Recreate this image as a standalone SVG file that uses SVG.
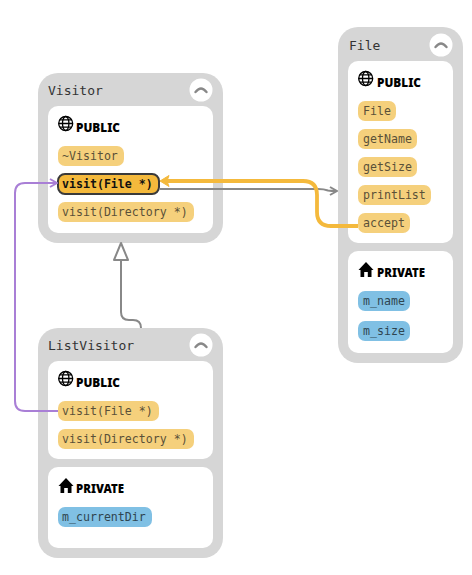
<svg xmlns="http://www.w3.org/2000/svg" width="472" height="575" viewBox="0 0 472 575">
<style>
.outer{fill:#d6d6d6}
.inner{fill:#fff}
.title{font:13px "DejaVu Sans Mono","Liberation Mono",monospace;fill:#333}
.sec{font:900 12px "Noto Sans","Open Sans",sans-serif;fill:#000}
.m{font:11.6px "DejaVu Sans Mono","Liberation Mono",monospace;fill:#5a5038}
.p{font:11.6px "DejaVu Sans Mono","Liberation Mono",monospace;fill:#2f4550}
.sel{font:bold 11.6px "DejaVu Sans Mono","Liberation Mono",monospace;fill:#111}
.pub{fill:#f5d07c}
.priv{fill:#80c0e4}
.btn{fill:#fff}
.chev{fill:none;stroke:#888;stroke-width:2.4;stroke-linecap:round;stroke-linejoin:round}
.globe{fill:none;stroke:#000;stroke-width:1.3}
.c{fill:none}
</style>
<defs>
<g id="globe"><circle class="globe" cx="0" cy="0" r="7"/><ellipse class="globe" cx="0" cy="0" rx="3.2" ry="7"/><path class="globe" d="M-7 0H7M-6 -3.6H6M-6 3.6H6"/></g>
<path id="house" d="M0 -8L7.500 0H5.500V7H1.800V2H-1.800V7H-5.500V0H-7.500Z" fill="#000"/>
<g id="toggle"><circle class="btn" r="11.500"/><path class="chev" d="M-5.500 2Q-2.500 -1.500 0 -1.500Q2.500 -1.500 5.500 2"/></g>
<marker id="ag" viewBox="0 0 10 10" refX="9" refY="5" markerWidth="10" markerHeight="10" markerUnits="userSpaceOnUse" orient="auto"><path d="M2 1L9 5L2 9" fill="none" stroke="#888" stroke-width="2"/></marker>
<marker id="ap" viewBox="0 0 10 10" refX="9" refY="5" markerWidth="10" markerHeight="10" markerUnits="userSpaceOnUse" orient="auto"><path d="M2 1L9 5L2 9" fill="none" stroke="#a97fd6" stroke-width="2"/></marker>
</defs>

<g id="node-visitor">
<rect class="outer" x="38" y="73" width="185" height="170" rx="20"/>
<text class="title" x="48" y="95">Visitor</text>
<use href="#toggle" x="201" y="90"/>
<rect class="inner" x="48" y="106" width="165" height="127" rx="10"/>
<use href="#globe" x="65.700" y="123.500"/>
<text class="sec" x="76" y="131.500" textLength="44" lengthAdjust="spacingAndGlyphs">PUBLIC</text>
<rect class="pub" x="58" y="146" width="66" height="20" rx="7"/>
<text class="m" x="62" y="160">~Visitor</text>
<rect x="58" y="174" width="101" height="20" rx="7" fill="#f4b93c" stroke="#3a3a3a" stroke-width="2"/>
<text class="sel" x="62" y="188">visit(File *)</text>
<rect class="pub" x="58" y="202" width="136" height="20" rx="7"/>
<text class="m" x="62" y="216">visit(Directory *)</text>
</g>

<g id="node-file">
<rect class="outer" x="338" y="27" width="125" height="336" rx="20"/>
<text class="title" x="349" y="50">File</text>
<use href="#toggle" x="441" y="45"/>
<rect class="inner" x="348" y="61" width="105" height="182" rx="10"/>
<use href="#globe" x="365.700" y="78.500"/>
<text class="sec" x="377" y="86.500" textLength="44" lengthAdjust="spacingAndGlyphs">PUBLIC</text>
<rect class="pub" x="358" y="101" width="38" height="20" rx="7"/>
<text class="m" x="363" y="115">File</text>
<rect class="pub" x="358" y="129" width="59" height="20" rx="7"/>
<text class="m" x="363" y="143">getName</text>
<rect class="pub" x="358" y="157" width="59" height="20" rx="7"/>
<text class="m" x="363" y="171">getSize</text>
<rect class="pub" x="358" y="185" width="73" height="20" rx="7"/>
<text class="m" x="363" y="199">printList</text>
<rect class="pub" x="358" y="213" width="52" height="20" rx="7"/>
<text class="m" x="363" y="227">accept</text>
<rect class="inner" x="348" y="251" width="105" height="102" rx="10"/>
<use href="#house" x="366" y="270"/>
<text class="sec" x="377" y="277" textLength="48" lengthAdjust="spacingAndGlyphs">PRIVATE</text>
<rect class="priv" x="358" y="291" width="52" height="20" rx="7"/>
<text class="p" x="363" y="305">m_name</text>
<rect class="priv" x="358" y="321" width="52" height="20" rx="7"/>
<text class="p" x="363" y="335">m_size</text>
</g>

<g id="node-listvisitor">
<rect class="outer" x="38" y="328" width="185" height="230" rx="20"/>
<text class="title" x="48" y="350">ListVisitor</text>
<use href="#toggle" x="201" y="345"/>
<rect class="inner" x="48" y="361" width="165" height="98" rx="10"/>
<use href="#globe" x="65.700" y="378.500"/>
<text class="sec" x="76" y="386.500" textLength="44" lengthAdjust="spacingAndGlyphs">PUBLIC</text>
<rect class="pub" x="58" y="401" width="101" height="20" rx="7"/>
<text class="m" x="62" y="415">visit(File *)</text>
<rect class="pub" x="58" y="429" width="136" height="20" rx="7"/>
<text class="m" x="62" y="443">visit(Directory *)</text>
<rect class="inner" x="48" y="467" width="165" height="81" rx="10"/>
<use href="#house" x="66" y="486"/>
<text class="sec" x="76" y="493" textLength="48" lengthAdjust="spacingAndGlyphs">PRIVATE</text>
<rect class="priv" x="58" y="507" width="94" height="20" rx="7"/>
<text class="p" x="62" y="521">m_currentDir</text>
</g>

<g id="connectors">
<path class="c" d="M141 328Q141 320 133 320H129Q121 320 121 312V260" stroke="#888" stroke-width="2"/>
<path d="M121 243L128 260H114Z" fill="#fff" stroke="#888" stroke-width="2" stroke-linejoin="round"/>
<path class="c" d="M160 189H318Q324 189 328 190.500Q331 191 337 191" stroke="#888" stroke-width="2" marker-end="url(#ag)"/>
<path class="c" d="M58 411H25Q15 411 15 401V193Q15 183 25 183H57" stroke="#a97fd6" stroke-width="2" marker-end="url(#ap)"/>
<path class="c" d="M358 226H331Q317 226 317 212V195Q317 181 303 181H166" stroke="#f4b93c" stroke-width="3.800"/>
<path d="M160 181L169 175.500L167 181L169 186.500Z" fill="#f4b93c" stroke="#f4b93c" stroke-linejoin="round"/>
</g>
</svg>
